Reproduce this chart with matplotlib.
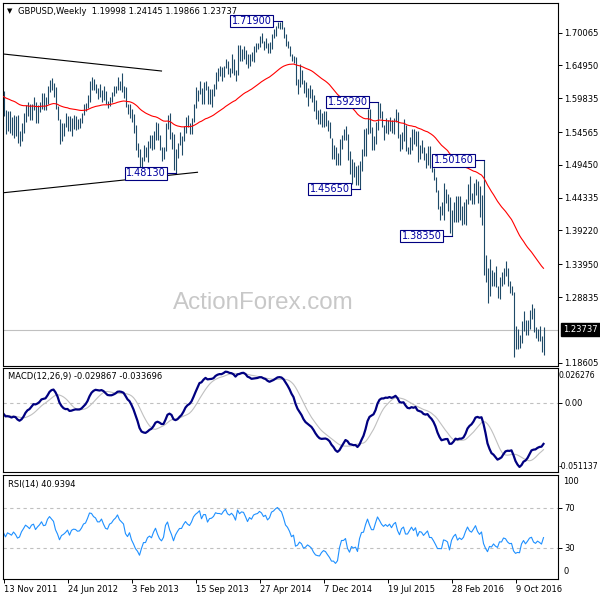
import numpy as np
import pandas as pd
import matplotlib
matplotlib.use('Agg')
import matplotlib.pyplot as plt

plt.rcParams['font.family'] = 'DejaVu Sans'
plt.rcParams['font.size'] = 6

# GBPUSD weekly bars, first bar = week of 13 Nov 2011, last = week of 15 Jan 2017
first_week = '2011-11-13'

high = [
    1.6090, 1.5800, 1.5790, 1.5780, 1.5690, 1.5720, 1.5700,
    1.5720, 1.5480, 1.5600, 1.5750, 1.5880, 1.5920, 1.5900, 1.5890, 1.6000, 1.5930,
    1.5880, 1.5930, 1.6060, 1.6060, 1.6000, 1.6170, 1.6270, 1.6300, 1.6220, 1.6160,
    1.5870, 1.5660, 1.5600, 1.5600, 1.5750, 1.5700, 1.5700, 1.5680, 1.5730, 1.5700,
    1.5660, 1.5670, 1.5760, 1.5900, 1.5910, 1.6030, 1.6250, 1.6310, 1.6280, 1.6210,
    1.6140, 1.6200, 1.6120, 1.6180, 1.6100, 1.5940, 1.6000, 1.6080, 1.6170, 1.6180,
    1.6310, 1.6260, 1.6380,
    1.6170, 1.6160, 1.5890, 1.5900, 1.5820, 1.5740, 1.5560, 1.5290, 1.5190, 1.5070,
    1.5250, 1.5230, 1.5320, 1.5410, 1.5410, 1.5470, 1.5610, 1.5600, 1.5410, 1.5230,
    1.5230, 1.5600, 1.5730, 1.5750, 1.5460, 1.5420, 1.5200, 1.5290, 1.5460, 1.5400,
    1.5550, 1.5690, 1.5720, 1.5600, 1.5680, 1.5890, 1.6160, 1.6110, 1.6260, 1.6150,
    1.6240, 1.6260, 1.6180, 1.6130, 1.6130, 1.6200, 1.6400, 1.6450, 1.6480, 1.6470,
    1.6480, 1.6600,
    1.6560, 1.6460, 1.6670, 1.6600, 1.6420, 1.6820, 1.6820, 1.6750, 1.6800, 1.6730,
    1.6670, 1.6680, 1.6710, 1.6800, 1.6840, 1.6850, 1.6950, 1.6995, 1.6870, 1.6920,
    1.6850, 1.6860, 1.6990, 1.7060, 1.7110, 1.7180, 1.7170, 1.7190, 1.7090, 1.6990,
    1.6880, 1.6800, 1.6680, 1.6640, 1.6620, 1.6280, 1.6520, 1.6420, 1.6270, 1.6230,
    1.6140, 1.6190, 1.6130, 1.6030, 1.5950, 1.5800, 1.5810, 1.5760, 1.5790, 1.5780,
    1.5650, 1.5620,
    1.5360, 1.5250, 1.5220, 1.5130, 1.5350, 1.5410, 1.5500, 1.5550, 1.5430, 1.5160,
    1.5030, 1.4990, 1.4930, 1.4940, 1.5000, 1.5200, 1.5500, 1.5520, 1.5815, 1.5810,
    1.5540, 1.5400, 1.5620, 1.5929, 1.5910, 1.5780, 1.5560, 1.5680, 1.5650, 1.5690,
    1.5650, 1.5680, 1.5820, 1.5770, 1.5420, 1.5460, 1.5660, 1.5570, 1.5230, 1.5380,
    1.5510, 1.5510, 1.5470, 1.5480, 1.5250, 1.5340, 1.5230, 1.5130, 1.5240, 1.5240,
    1.4940, 1.4900,
    1.4760, 1.4560, 1.4310, 1.4360, 1.4670, 1.4570, 1.4490, 1.4450, 1.4240, 1.4370,
    1.4460, 1.4460, 1.4460, 1.4310, 1.4360, 1.4410, 1.4640, 1.4770, 1.4510, 1.4670,
    1.4720, 1.4690, 1.4620, 1.4480, 1.5016, 1.3540, 1.3330, 1.3480, 1.3300, 1.3270,
    1.3370, 1.3060, 1.3190, 1.3270, 1.3340, 1.3445, 1.3340, 1.3130, 1.3050, 1.2970,
    1.2440, 1.2380, 1.2300, 1.2510, 1.2670, 1.2530, 1.2530, 1.2680, 1.2780, 1.2710,
    1.2420, 1.2390, 1.2430, 1.2270, 1.24145,
]

low = [
    1.5700, 1.5430, 1.5470, 1.5440, 1.5410, 1.5370, 1.5400,
    1.5290, 1.5234, 1.5320, 1.5450, 1.5610, 1.5700, 1.5640, 1.5640, 1.5800, 1.5600,
    1.5600, 1.5770, 1.5820, 1.5800, 1.5800, 1.5890, 1.6080, 1.6120, 1.6010, 1.5820,
    1.5640, 1.5269, 1.5320, 1.5400, 1.5530, 1.5480, 1.5480, 1.5400, 1.5500, 1.5490,
    1.5500, 1.5520, 1.5600, 1.5720, 1.5780, 1.5830, 1.5920, 1.6120, 1.6110, 1.6060,
    1.5970, 1.6000, 1.5930, 1.5960, 1.5900, 1.5830, 1.5870, 1.5920, 1.6020, 1.6070,
    1.6120, 1.6110, 1.6080,
    1.5990, 1.5850, 1.5740, 1.5670, 1.5610, 1.5440, 1.5180, 1.5070, 1.4900, 1.4831,
    1.5010, 1.5070, 1.4990, 1.5210, 1.5170, 1.5190, 1.5330, 1.5340, 1.5180, 1.5010,
    1.5030, 1.5160, 1.5500, 1.5350, 1.5200, 1.4860, 1.4813, 1.5050, 1.5250, 1.5100,
    1.5310, 1.5440, 1.5530, 1.5420, 1.5430, 1.5620, 1.5840, 1.5940, 1.6050, 1.5890,
    1.5900, 1.6110, 1.5900, 1.5900, 1.5850, 1.6020, 1.6130, 1.6260, 1.6330, 1.6260,
    1.6320, 1.6460,
    1.6360, 1.6310, 1.6380, 1.6350, 1.6250, 1.6340, 1.6560, 1.6570, 1.6600, 1.6520,
    1.6460, 1.6480, 1.6560, 1.6550, 1.6700, 1.6750, 1.6790, 1.6850, 1.6730, 1.6770,
    1.6690, 1.6690, 1.6750, 1.6920, 1.6960, 1.7080, 1.7060, 1.7060, 1.6920, 1.6800,
    1.6770, 1.6640, 1.6560, 1.6540, 1.6190, 1.6050, 1.6160, 1.6210, 1.6060, 1.6000,
    1.5870, 1.5990, 1.5930, 1.5790, 1.5660, 1.5590, 1.5590, 1.5540, 1.5530, 1.5550,
    1.5480, 1.5360,
    1.5030, 1.5030, 1.4950, 1.4950, 1.4950, 1.5190, 1.5330, 1.5330, 1.5020, 1.4800,
    1.4640, 1.4760, 1.4630, 1.4630, 1.4565, 1.4850, 1.5090, 1.5080, 1.5420, 1.5450,
    1.5170, 1.5170, 1.5270, 1.5490, 1.5680, 1.5540, 1.5330, 1.5440, 1.5420, 1.5480,
    1.5440, 1.5430, 1.5620, 1.5370, 1.5160, 1.5200, 1.5310, 1.5160, 1.5110, 1.5110,
    1.5180, 1.5270, 1.5240, 1.4990, 1.5030, 1.5130, 1.5020, 1.4890, 1.4950, 1.4890,
    1.4840, 1.4710,
    1.4520, 1.4250, 1.4080, 1.4160, 1.4080, 1.4350, 1.4230, 1.3880, 1.3835, 1.4060,
    1.4050, 1.4050, 1.4090, 1.4000, 1.4030, 1.4000, 1.4340, 1.4400, 1.4330, 1.4330,
    1.4470, 1.4350, 1.4140, 1.4010, 1.3229, 1.3120, 1.2798, 1.2900, 1.3060, 1.3060,
    1.3040, 1.2870, 1.2860, 1.3060, 1.3080, 1.3210, 1.3050, 1.2940, 1.2920, 1.1950,
    1.2080, 1.2080, 1.2090, 1.2160, 1.2360, 1.2300, 1.2300, 1.2380, 1.2540, 1.2340,
    1.2250, 1.2200, 1.2200, 1.2030, 1.19866,
]

close = [
    1.5720, 1.5480, 1.5660, 1.5600, 1.5530, 1.5660, 1.5540,
    1.5340, 1.5380, 1.5580, 1.5710, 1.5860, 1.5800, 1.5720, 1.5860, 1.5900, 1.5700,
    1.5800, 1.5880, 1.6000, 1.5870, 1.5890, 1.6120, 1.6240, 1.6170, 1.6100, 1.5820,
    1.5650, 1.5380, 1.5520, 1.5560, 1.5620, 1.5700, 1.5500, 1.5660, 1.5700, 1.5690,
    1.5630, 1.5640, 1.5720, 1.5840, 1.5870, 1.6020, 1.6230, 1.6220, 1.6150, 1.6120,
    1.6030, 1.6030, 1.6110, 1.6000, 1.5900, 1.5880, 1.6000, 1.6030, 1.6110, 1.6160,
    1.6250, 1.6160, 1.6120,
    1.6080, 1.5860, 1.5780, 1.5860, 1.5650, 1.5500, 1.5290, 1.5160, 1.4910, 1.5060,
    1.5200, 1.5200, 1.5320, 1.5360, 1.5300, 1.5440, 1.5550, 1.5360, 1.5190, 1.5100,
    1.5190, 1.5560, 1.5690, 1.5420, 1.5210, 1.4890, 1.5100, 1.5240, 1.5360, 1.5360,
    1.5520, 1.5650, 1.5560, 1.5510, 1.5650, 1.5880, 1.6010, 1.6090, 1.6200, 1.5960,
    1.6170, 1.6170, 1.5930, 1.6090, 1.6110, 1.6190, 1.6370, 1.6350, 1.6350, 1.6330,
    1.6460, 1.6550,
    1.6450, 1.6420, 1.6490, 1.6440, 1.6340, 1.6740, 1.6650, 1.6730, 1.6720, 1.6620,
    1.6500, 1.6640, 1.6600, 1.6750, 1.6790, 1.6810, 1.6890, 1.6860, 1.6790, 1.6830,
    1.6740, 1.6800, 1.6980, 1.7020, 1.7100, 1.7150, 1.7110, 1.7080, 1.6980, 1.6840,
    1.6790, 1.6700, 1.6560, 1.6590, 1.6220, 1.6240, 1.6300, 1.6240, 1.6060, 1.6080,
    1.6120, 1.6070, 1.6000, 1.5830, 1.5690, 1.5650, 1.5630, 1.5680, 1.5710, 1.5670,
    1.5540, 1.5400,
    1.5160, 1.5160, 1.4980, 1.5020, 1.5240, 1.5390, 1.5390, 1.5430, 1.5030, 1.4810,
    1.4940, 1.4860, 1.4880, 1.4640, 1.4970, 1.5170, 1.5180, 1.5450, 1.5700, 1.5490,
    1.5290, 1.5290, 1.5570, 1.5880, 1.5750, 1.5600, 1.5510, 1.5590, 1.5520, 1.5610,
    1.5480, 1.5620, 1.5690, 1.5390, 1.5200, 1.5430, 1.5500, 1.5190, 1.5190, 1.5320,
    1.5450, 1.5310, 1.5420, 1.5040, 1.5220, 1.5190, 1.5040, 1.5120, 1.5200, 1.4900,
    1.4900, 1.4740,
    1.4530, 1.4260, 1.4260, 1.4250, 1.4500, 1.4470, 1.4400, 1.3910, 1.4220, 1.4370,
    1.4450, 1.4130, 1.4210, 1.4120, 1.4200, 1.4410, 1.4600, 1.4430, 1.4370, 1.4490,
    1.4630, 1.4390, 1.4250, 1.4340, 1.3680, 1.3290, 1.2950, 1.3160, 1.3110, 1.3230,
    1.3050, 1.2950, 1.3160, 1.3150, 1.3300, 1.3260, 1.3070, 1.2960, 1.2970, 1.2430,
    1.2190, 1.2220, 1.2190, 1.2470, 1.2590, 1.2380, 1.2470, 1.2580, 1.2610, 1.2350,
    1.2270, 1.2340, 1.2270, 1.2180, 1.23737,
]

ma_seed = 1.6020
ema12_seed = 1.5800
ema26_seed = 1.5880
rsi_gain_seed = 0.0090
rsi_loss_seed = 0.0110

# marked swing highs / lows
mark_bars = [86, 139, 178, 187, 224, 240]
mark_prices = [1.48130, 1.71900, 1.45650, 1.59290, 1.38350, 1.50160]

# hand drawn trend lines (bar index, price)
upper_bars = [0, 79]
upper_prices = [1.6674, 1.6409]
lower_bars = [0, 97]
lower_prices = [1.4511, 1.4830]

price_ticks = [1.70065, 1.64950, 1.59835, 1.54565, 1.49450,
               1.44335, 1.39220, 1.33950, 1.28835, 1.18605]
last_ohlc = [1.19998, 1.24145, 1.19866, 1.23737]
macd_max, macd_min = 0.026276, -0.051137
macd_last, signal_last = -0.029867, -0.033696
rsi_last = 40.9394


def ema(values, period, seed):
    k = 2.0 / (period + 1)
    out = []
    prev = seed
    for v in values:
        prev = prev + k * (v - prev)
        out.append(prev)
    return np.array(out)


n = len(close)
x = np.arange(n)
dates = pd.date_range(first_week, periods=n, freq='7D')

ma = ema(close, 55, ma_seed)
macd = ema(close, 12, ema12_seed) - ema(close, 26, ema26_seed)
signal = pd.Series(macd).rolling(9, min_periods=1).mean().values

g, l = rsi_gain_seed, rsi_loss_seed
rsi = []
diffs = np.diff(close, prepend=close[0])
for d in diffs:
    g = (g * 13 + max(d, 0)) / 14
    l = (l * 13 + max(-d, 0)) / 14
    rsi.append(100 * g / (g + l))
rsi = np.array(rsi)

# ---- figure, laid out in pixels of a 600x600 canvas
fig = plt.figure(figsize=(6, 6), dpi=100)
fig.patch.set_facecolor('white')


def pane(top, bottom):
    a = fig.add_axes([2.5 / 600, 1 - bottom / 600, 555 / 600, (bottom - top) / 600])
    a.set_xlim(-0.5, 277.0)
    for s in a.spines.values():
        s.set_linewidth(0.8)
        s.set_color('black')
    a.yaxis.tick_right()
    a.tick_params(axis='y', length=3, width=0.7, pad=1.8, labelsize=6)
    a.set_xticks([])
    return a


ax = pane(3, 365.5)
ax_m = pane(367.5, 472)
ax_r = pane(474.5, 578.5)

# main price pane
ax.set_ylim(1.18168, 1.74696)
ax.vlines(x, low, high, color='#1f4a68', lw=0.8, zorder=3)
ax.plot(x, ma, color='red', lw=0.8, zorder=4)
ax.axhline(last_ohlc[3], color='#c0c0c0', lw=0.8, zorder=1)
ax.plot(upper_bars, upper_prices, color='black', lw=0.8, zorder=4)
ax.plot(lower_bars, lower_prices, color='black', lw=0.8, zorder=4)
ax.set_yticks(price_ticks)
ax.set_yticklabels([f'{p:.5f}' for p in price_ticks])

for b, p in zip(mark_bars, mark_prices):
    ax.plot([b - 5.0, b], [p, p], color='#000080', lw=0.8, zorder=5)
    ax.text(b - 5.0, p, f'{p:.5f}', ha='right', va='center', fontsize=7,
            color='#0000a0', zorder=6,
            bbox=dict(boxstyle='square,pad=0.12', fc='white', ec='#000080', lw=0.8))

ax.text(1 + 5.5 / 555, last_ohlc[3], f'{last_ohlc[3]:.5f}', transform=ax.get_yaxis_transform(),
        ha='left', va='center', fontsize=6, color='white',
        bbox=dict(boxstyle='square,pad=0.25', fc='black', ec='black'))

ax.text(172.7 / 600, 1 - 309 / 600, 'ActionForex.com', transform=fig.transFigure,
        fontsize=17.4, family='Liberation Sans', color='#c8c8c8', ha='left', va='baseline', zorder=0)

fig.text(7 / 600, 1 - 13.5 / 600, '\u25bc', fontsize=5, va='baseline')
fig.text(18 / 600, 1 - 14 / 600,
         'GBPUSD,Weekly  ' + ' '.join(f'{v:.5f}' for v in last_ohlc),
         fontsize=6, va='baseline')

# MACD pane
ax_m.set_ylim(macd_min, macd_max)
ax_m.axhline(0, color='#c0c0c0', lw=0.8, ls=(0, (3, 3)))
ax_m.plot(x, signal, color='#c0c0c0', lw=0.8)
ax_m.plot(x, macd, color='#000080', lw=1.6)
ax_m.set_yticks([0])
ax_m.set_yticklabels(['0.00'])
ax_m.text(1 + 1.0 / 555, 0.928, f'{macd_max:.6f}', transform=ax_m.transAxes, va='center', fontsize=5.6)
ax_m.text(1 + 1.0 / 555, 0.057, f'{macd_min:.6f}', transform=ax_m.transAxes, va='center', fontsize=5.6)
fig.text(7.7 / 600, 1 - 376 / 600, f'MACD(12,26,9) {macd_last:.6f} {signal_last:.6f}',
         fontsize=6, va='center')

# RSI pane
ax_r.set_ylim(-0.5, 103)
ax_r.axhline(70, color='#c0c0c0', lw=0.8, ls=(0, (3, 3)))
ax_r.axhline(30, color='#c0c0c0', lw=0.8, ls=(0, (3, 3)))
ax_r.plot(x, rsi, color='#1e90ff', lw=0.8)
ax_r.set_yticks([70, 30])
ax_r.set_yticklabels(['70', '30'])
ax_r.text(1 + 5.5 / 555, 0.928, '100', transform=ax_r.transAxes, va='center', fontsize=6)
ax_r.text(1 + 5.5 / 555, 0.0625, '0', transform=ax_r.transAxes, va='center', fontsize=6)
fig.text(7.7 / 600, 1 - 484 / 600, f'RSI(14) {rsi_last:.4f}', fontsize=6, va='center')

tick_idx = x[::32]
ax_r.set_xticks(tick_idx)
ax_r.set_xticklabels([f'{d.day} {d:%b %Y}' for d in dates[tick_idx]], ha='left')
ax_r.tick_params(axis='x', length=3, width=0.7, pad=1.5, labelsize=6)

fig.savefig('out.png', dpi=100)
